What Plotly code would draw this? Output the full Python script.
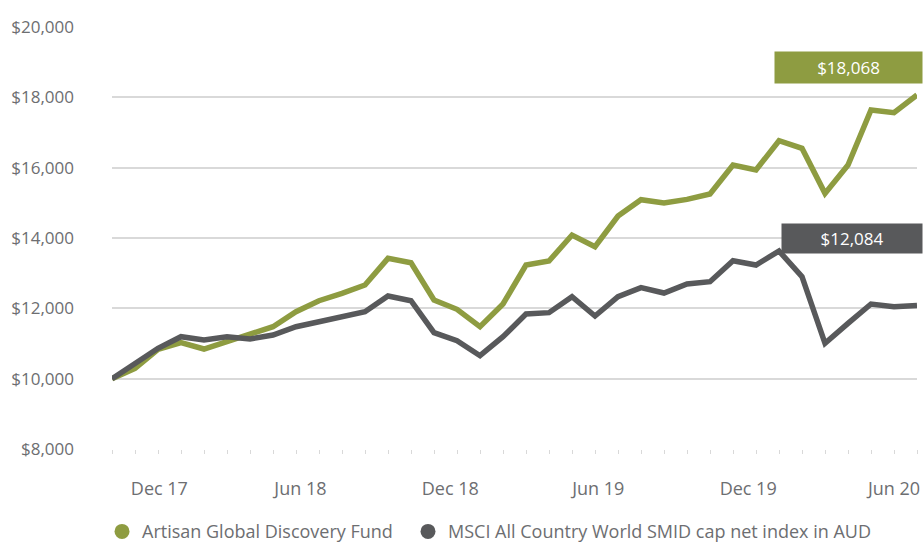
import plotly.graph_objects as go

fund_name = "Artisan Global Discovery Fund"
index_name = "MSCI All Country World SMID cap net index in AUD"

fund_values = [10000, 10295, 10835, 11023, 10843, 11051, 11270, 11478, 11904, 12217,
               12427, 12663, 13422, 13297, 12237, 11972, 11478, 12123, 13232, 13345,
               14084, 13752, 14625, 15090, 14995, 15099, 15250, 16075, 15933, 16767,
               16550, 15269, 16075, 17639, 17563, 18068]
index_values = [10000, 10454, 10863, 11193, 11100, 11193, 11128, 11241, 11478, 11620,
                11782, 11904, 12350, 12217, 11307, 11080, 10653, 11193, 11838, 11877,
                12331, 11782, 12331, 12590, 12435, 12692, 12757, 13354, 13232, 13630,
                12900, 11005, 11574, 12123, 12047, 12084]
periods = list(range(len(fund_values)))

tick_labels = ["Dec 17", "Jun 18", "Dec 18", "Jun 19", "Dec 19", "Jun 20"]
tick_positions = [2.06, 8.19, 14.71, 21.14, 27.66, 34.0]

GREEN = "#8E9C41"
GREY = "#58595B"
TEXT = "#6D6E71"
GRID = "#D9D9D9"
FONT = "Open Sans"

fig = go.Figure()
fig.add_trace(go.Scatter(x=periods, y=fund_values, mode="lines",
                         line=dict(color=GREEN, width=5.5), showlegend=False,
                         name=fund_name, cliponaxis=False))
fig.add_trace(go.Scatter(x=periods, y=index_values, mode="lines",
                         line=dict(color=GREY, width=5.5), showlegend=False,
                         name=index_name, cliponaxis=False))
# legend entries (circle markers)
fig.add_trace(go.Scatter(x=[None], y=[None], mode="markers", name=fund_name,
                         marker=dict(color=GREEN, size=15, symbol="circle"),
                         legend="legend"))
fig.add_trace(go.Scatter(x=[None], y=[None], mode="markers", name=index_name,
                         marker=dict(color=GREY, size=15, symbol="circle"),
                         legend="legend2"))

fig.add_annotation(x=periods[-1], y=fund_values[-1], xref="x", yref="y",
                   text="${:,}".format(fund_values[-1]), showarrow=False,
                   xanchor="right", yanchor="bottom", xshift=6, yshift=11,
                   width=147, height=31, bgcolor=GREEN, borderpad=0,
                   font=dict(family=FONT, size=17, color="white"), align="center")
fig.add_annotation(x=periods[-1], y=index_values[-1], xref="x", yref="y",
                   text="${:,}".format(index_values[-1]), showarrow=False,
                   xanchor="right", yanchor="bottom", xshift=6, yshift=51,
                   width=140, height=29, bgcolor=GREY, borderpad=0,
                   font=dict(family=FONT, size=17, color="white"), align="center")

legend_common = dict(orientation="h", xanchor="left", y=-0.196, yanchor="middle",
                     font=dict(family=FONT, size=18, color=TEXT),
                     bgcolor="rgba(0,0,0,0)")

fig.update_layout(
    width=924, height=546,
    margin=dict(l=112, r=7, t=27, b=97, autoexpand=False),
    paper_bgcolor="white", plot_bgcolor="white",
    font=dict(family=FONT, color=TEXT, size=17),
    legend=dict(x=-0.0124, **legend_common),
    legend2=dict(x=0.3677, **legend_common),
)
fig.update_xaxes(range=[0, 35], tickmode="array", tickvals=tick_positions,
                 ticktext=tick_labels, ticks="", showgrid=False, zeroline=False,
                 showline=False, ticklabelstandoff=27, automargin=False,
                 tickfont=dict(family=FONT, size=18, color=TEXT),
                 minor=dict(tickmode="linear", tick0=0, dtick=1, ticks="outside",
                            ticklen=4, tickcolor=GRID, tickwidth=1, showgrid=False))
fig.update_yaxes(range=[8000, 20000], dtick=2000, tick0=8000, tickprefix="$",
                 tickformat=",", showgrid=True, gridcolor=GRID, gridwidth=2,
                 zeroline=False, showline=False, ticks="", ticklabelstandoff=37,
                 automargin=False,
                 tickfont=dict(family=FONT, size=17, color=TEXT))

fig.write_html("out.html", config={"displayModeBar": False},
               post_script="document.body.style.margin='0';"
                           "document.documentElement.style.overflow='hidden';")
